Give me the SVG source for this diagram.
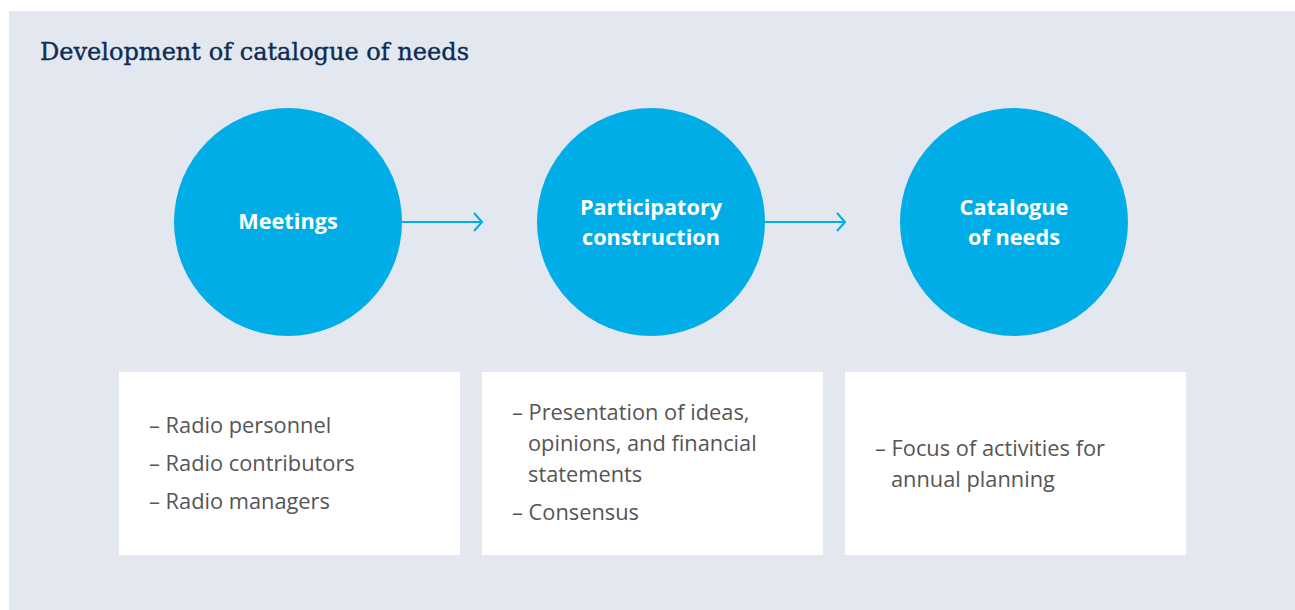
<svg xmlns="http://www.w3.org/2000/svg" width="1295" height="610" viewBox="0 0 1295 610">
<style>
.title{font-family:"DejaVu Serif Condensed","DejaVu Serif","Liberation Serif",serif;font-size:25px;fill:#0d2c54;stroke:#0d2c54;stroke-width:0.35px;}
.circ{fill:#00ade7;}
.ctext{font-family:"Open Sans","Noto Sans",sans-serif;font-size:21.7px;font-weight:bold;fill:#ffffff;text-anchor:middle;}
.box{fill:#ffffff;}
.btext{font-family:"Open Sans","Noto Sans",sans-serif;font-size:21.8px;fill:#555555;}
.conn{stroke:#00ade7;stroke-width:2;fill:none;}
</style>
<defs>
<marker id="chev" viewBox="0 0 10 20" refX="9" refY="10" markerWidth="10" markerHeight="20" markerUnits="userSpaceOnUse" orient="auto">
<path d="M1,1 L9,10 L1,19" fill="none" stroke="#00ade7" stroke-width="2"/>
</marker>
</defs>
<rect x="9" y="11" width="1286" height="599" fill="#e3e8f0"/>
<text class="title" x="40" y="60" textLength="429" lengthAdjust="spacingAndGlyphs">Development of catalogue of needs</text>
<g id="connectors">
<line class="conn" x1="401" y1="222" x2="482" y2="222" marker-end="url(#chev)"/>
<line class="conn" x1="764" y1="222" x2="845" y2="222" marker-end="url(#chev)"/>
</g>
<g id="meetings">
<circle class="circ" cx="288" cy="222" r="114"/>
<text class="ctext" x="288" y="229">Meetings</text>
</g>
<g id="participatory">
<circle class="circ" cx="651" cy="222" r="114"/>
<text class="ctext" x="651" y="215">Participatory</text>
<text class="ctext" x="651" y="245">construction</text>
</g>
<g id="catalogue">
<circle class="circ" cx="1014" cy="222" r="114"/>
<text class="ctext" x="1014" y="215">Catalogue</text>
<text class="ctext" x="1014" y="245">of needs</text>
</g>
<g id="box1">
<rect class="box" x="119" y="372" width="341" height="183"/>
<text class="btext" x="149" y="433">– Radio personnel</text>
<text class="btext" x="149" y="471">– Radio contributors</text>
<text class="btext" x="149" y="509">– Radio managers</text>
</g>
<g id="box2">
<rect class="box" x="482" y="372" width="341" height="183"/>
<text class="btext" x="512" y="420">– Presentation of ideas,</text>
<text class="btext" x="528" y="451">opinions, and financial</text>
<text class="btext" x="528" y="482">statements</text>
<text class="btext" x="512" y="520">– Consensus</text>
</g>
<g id="box3">
<rect class="box" x="845" y="372" width="341" height="183"/>
<text class="btext" x="875" y="456">– Focus of activities for</text>
<text class="btext" x="891" y="487">annual planning</text>
</g>
</svg>
